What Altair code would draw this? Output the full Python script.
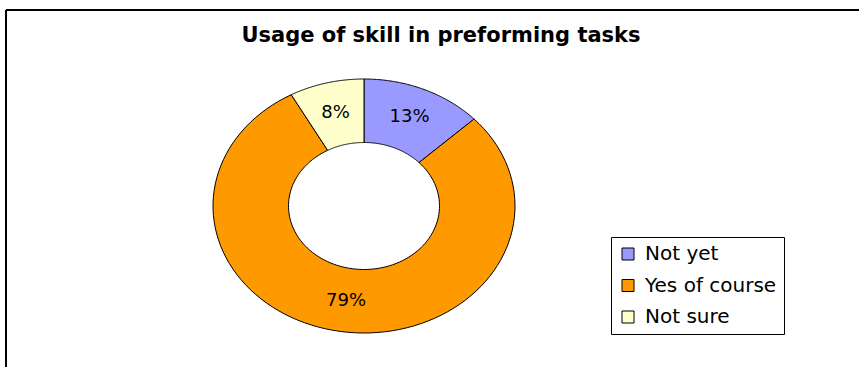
import altair as alt
import pandas as pd

# ---- data ----
categories = ["Not yet", "Yes of course", "Not sure"]
values = [13, 79, 8]
labels = ["13%", "79%", "8%"]
colors = ["#9999FF", "#FF9900", "#FFFFCC"]
TITLE = "Usage of skill in preforming tasks"

df = pd.DataFrame({"cat": categories, "value": values,
                   "order": list(range(len(categories))), "label": labels})
title_df = pd.DataFrame({"title": [TITLE]})

# ---- layout (pixels) ----
W, H = 859, 367
CX, CY, RX, RY = 364, 206, 151, 127
INNER = 0.5
N = 100

xs = alt.Scale(domain=[-CX / RX, (W - CX) / RX], nice=False, zero=False)
ys = alt.Scale(domain=[-(H - CY) / RY, CY / RY], nice=False, zero=False)

base = alt.Chart(df).transform_window(
    cum="sum(value)", frame=[None, 0], sort=[alt.SortField("order")]
).transform_joinaggregate(total="sum(value)").transform_calculate(
    t0="2*PI*(datum.cum - datum.value)/datum.total",
    t1="2*PI*datum.cum/datum.total",
)

ring = base.transform_calculate(
    k=f"sequence(0, {2 * N + 3})"
).transform_flatten(["k"]).transform_calculate(
    t=(f"datum.k <= {N} ? datum.t0 + (datum.t1-datum.t0)*datum.k/{N} : "
       f"(datum.k <= {2 * N + 1} ? datum.t1 - (datum.t1-datum.t0)*(datum.k-{N + 1})/{N} : datum.t0)"),
    r=f"(datum.k <= {N} || datum.k > {2 * N + 1}) ? 1 : {INNER}",
).transform_calculate(
    px="datum.r*sin(datum.t)", py="datum.r*cos(datum.t)"
).mark_line(stroke="black", strokeWidth=1, strokeJoin="round").encode(
    x=alt.X("px:Q", scale=xs, axis=None),
    y=alt.Y("py:Q", scale=ys, axis=None),
    order=alt.Order("k:Q"),
    detail="cat:N",
    fill=alt.Fill(
        "cat:N",
        scale=alt.Scale(domain=categories, range=colors),
        legend=alt.Legend(
            orient="none", legendX=611, legendY=237, title=None,
            symbolType="square", symbolSize=144,
            symbolStrokeColor="black", symbolStrokeWidth=1,
            labelFont="DejaVu Sans", labelFontSize=20, labelColor="black",
            labelOffset=7, labelLimit=400,
            strokeColor="black", fillColor="white",
            padding=7, rowPadding=11.5,
        ),
    ),
)

text = base.transform_calculate(
    mid="(datum.t0+datum.t1)/2",
    lx="0.76*sin(datum.mid)",
    ly="0.76*cos(datum.mid)",
).mark_text(font="DejaVu Sans", fontSize=18, color="black").encode(
    x=alt.X("lx:Q", scale=xs, axis=None),
    y=alt.Y("ly:Q", scale=ys, axis=None),
    text="label:N",
)

title = alt.Chart(title_df).mark_text(
    font="DejaVu Sans", fontSize=21, fontWeight="bold", color="black",
    baseline="alphabetic", align="center",
).encode(x=alt.value(441), y=alt.value(42), text="title:N")

frame_top = alt.Chart(title_df).mark_rule(color="black", strokeWidth=2).encode(
    x=alt.value(6), x2=alt.value(W), y=alt.value(10))
frame_left = alt.Chart(title_df).mark_rule(color="black", strokeWidth=2).encode(
    x=alt.value(6), y=alt.value(10), y2=alt.value(H))

chart = alt.layer(ring, text, title, frame_top, frame_left).properties(
    width=W, height=H, autosize=alt.AutoSizeParams(type="none"), padding=0
).configure_view(stroke=None)

chart.save("out.html", embed_options={"renderer": "svg", "actions": False})
